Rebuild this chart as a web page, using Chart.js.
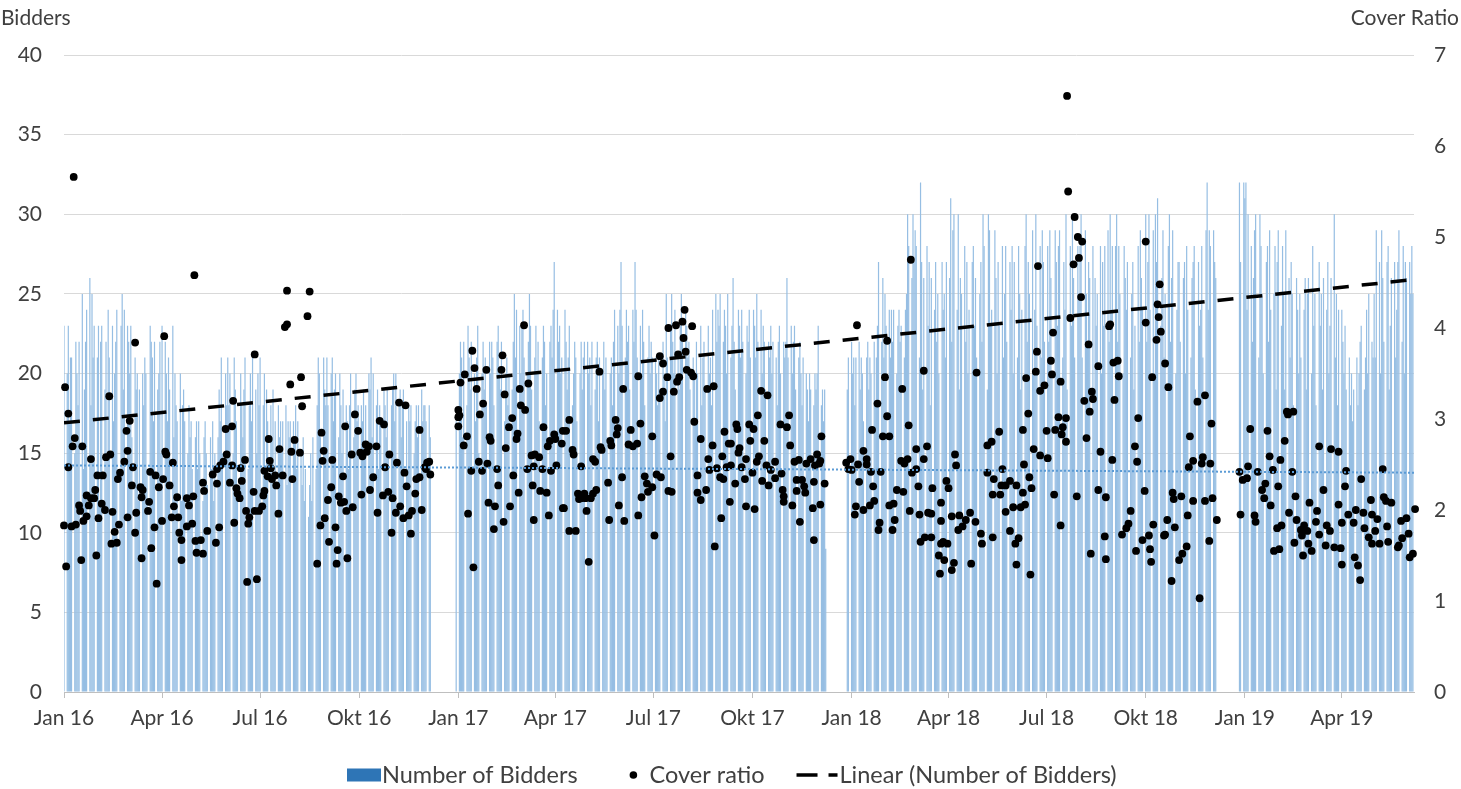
<!DOCTYPE html>
<html>
<head>
<meta charset="utf-8">
<script src="https://cdn.jsdelivr.net/npm/chart.js@4.4.1/dist/chart.umd.min.js"></script>
<style>
  html, body { margin: 0; padding: 0; background: #fff; }
  #wrap { width: 1461px; height: 789px; }
</style>
</head>
<body>
<div id="wrap"><canvas id="chart" width="1461" height="789"></canvas></div>
<script>
// --- axis labels ---
const tickDates = ['2016-01-01', '2016-04-01', '2016-07-01', '2016-10-01',
                   '2017-01-01', '2017-04-01', '2017-07-01', '2017-10-01',
                   '2018-01-01', '2018-04-01', '2018-07-01', '2018-10-01',
                   '2019-01-01', '2019-04-01'];
const tickLabels = ['Jan 16', 'Apr 16', 'Jul 16', 'Okt 16',
                    'Jan 17', 'Apr 17', 'Jul 17', 'Okt 17',
                    'Jan 18', 'Apr 18', 'Jul 18', 'Okt 18',
                    'Jan 19', 'Apr 19'];
const axisEnd = '2019-06-07';

// --- number of bidders, one value per weekday, per auction period ---
const start2016 = '2016-01-01';
const bidders2016 = [
  23, 20, 23, 17, 21, 21, 15, 22, 20, 18, 22, 25, 14, 19, 22, 24, 26, 18, 25, 21, 23,      // Jan
  21, 23, 12, 22, 23, 19, 22, 15, 24, 21, 23, 17, 20, 22, 24, 14, 23, 25, 19, 24, 23,      // Feb
  22, 20, 23, 16, 21, 19, 20, 12, 19, 20, 18, 21, 20, 14, 23, 22, 21, 17, 22, 19, 20, 22, 15, // Mar
  23, 22, 20, 17, 21, 19, 23, 16, 20, 18, 17, 20, 12, 18, 19, 17, 15, 18, 16, 17, 14,      // Apr
  16, 17, 14, 17, 15, 12, 16, 17, 15, 13, 16, 14, 17, 12, 15, 16, 19, 17, 21, 15, 20, 18,  // May
  21, 18, 20, 15, 21, 19, 17, 13, 20, 18, 16, 19, 21, 14, 18, 20, 17, 21, 19, 15, 20, 18,  // Jun
  21, 18, 20, 14, 19, 17, 18, 16, 19, 13, 17, 18, 16, 17, 15, 17, 18, 13, 17, 16, 17,      // Jul
  17, 16, 18, 14, 17, 15, 13, 16, 12, 14, 11, 13, 15, 12, 16, 14, 18, 21, 20, 16, 21, 19, 18, // Aug
  21, 18, 20, 21, 17, 19, 20, 16, 20, 18, 15, 19, 18, 17, 14, 18, 20, 16, 19, 20, 17, 18,  // Sep
  18, 17, 19, 15, 18, 20, 19, 21, 16, 20, 18, 19, 14, 18, 17, 19, 18, 16, 19, 15, 18,      // Okt
  19, 20, 17, 20, 18, 19, 16, 18, 19, 17, 14, 18, 17, 18, 15, 17, 18, 16, 18, 19, 17, 18,  // Nov
  18, 17, 18, 16                                                                            // Dec
];
const start2017 = '2016-12-30';
const bidders2017 = [
  17,
  20, 22, 21, 16, 22, 18, 23, 21, 19, 22, 20, 17, 21, 23, 15, 20, 22, 19, 21, 18, 22, 20,  // Jan
  22, 21, 18, 22, 23, 20, 19, 22, 17, 20, 21, 18, 20, 19, 22, 25, 21, 24, 23, 20,          // Feb
  23, 24, 21, 20, 22, 25, 23, 19, 21, 23, 20, 22, 17, 21, 23, 22, 18, 20, 22, 23, 21, 24, 27, // Mar
  24, 22, 23, 20, 21, 24, 22, 19, 21, 23, 18, 20, 22, 21, 17, 20, 22, 19, 21, 22,          // Apr
  22, 20, 21, 18, 22, 19, 21, 22, 17, 21, 20, 22, 19, 21, 16, 20, 21, 18, 22, 24, 23, 20, 24, // May
  27, 23, 21, 24, 22, 23, 19, 24, 22, 27, 24, 21, 23, 20, 24, 22, 18, 21, 23, 20, 22, 21,  // Jun
  21, 20, 18, 21, 19, 22, 20, 17, 25, 21, 23, 25, 22, 20, 24, 21, 19, 23, 25, 22, 24,      // Jul
  23, 21, 22, 19, 21, 20, 17, 22, 20, 23, 18, 21, 22, 19, 23, 20, 21, 18, 24, 25, 22, 24, 23, // Aug
  25, 22, 24, 23, 20, 25, 21, 23, 26, 22, 19, 24, 23, 21, 24, 22, 20, 23, 22, 24, 21,      // Sep
  24, 23, 21, 25, 22, 24, 20, 23, 22, 19, 22, 21, 23, 20, 22, 21, 18, 22, 23, 20, 22, 21,  // Okt
  22, 26, 21, 23, 20, 22, 23, 19, 21, 22, 20, 18, 21, 20, 19, 17, 20, 19, 18, 20, 19, 20,  // Nov
  23, 18, 19, 17, 19, 9                                                                     // Dec
];
const start2018 = '2017-12-28';
const bidders2018 = [
  19, 21,
  22, 20, 21, 18, 21, 22, 19, 21, 20, 17, 21, 22, 19, 21, 20, 22, 18, 21, 23, 27, 22, 26, 21, // Jan
  25, 23, 24, 21, 24, 22, 24, 20, 23, 24, 22, 23, 21, 24, 25, 30, 28, 26, 30, 27,          // Feb
  29, 28, 21, 32, 27, 19, 26, 28, 23, 27, 18, 26, 24, 27, 22, 25, 20, 27, 24, 25, 21, 27,  // Mar
  26, 31, 22, 29, 30, 24, 30, 19, 26, 25, 28, 22, 27, 20, 24, 27, 28, 23, 26, 21, 25,      // Apr
  27, 22, 30, 28, 19, 30, 29, 23, 24, 29, 26, 20, 27, 23, 28, 21, 25, 28, 22, 27, 24, 28, 20, // May
  27, 21, 28, 25, 19, 24, 28, 30, 22, 27, 25, 29, 20, 24, 30, 23, 28, 21, 29, 27, 22,      // Jun
  28, 22, 29, 26, 20, 29, 27, 23, 28, 29, 21, 27, 24, 30, 19, 28, 23, 30, 26, 21, 28, 25,  // Jul
  28, 30, 21, 29, 25, 22, 27, 26, 28, 19, 26, 23, 25, 28, 20, 27, 23, 28, 29, 22, 30, 24, 28, // Aug
  28, 30, 22, 28, 25, 20, 28, 26, 24, 27, 21, 25, 27, 19, 23, 28, 22, 29, 26, 24,          // Sep
  30, 22, 27, 30, 24, 29, 20, 30, 27, 31, 23, 26, 29, 21, 25, 28, 30, 22, 26, 29, 20, 24, 27, // Okt
  27, 22, 26, 27, 20, 28, 24, 21, 26, 27, 28, 19, 27, 23, 24, 28, 21, 29, 32, 24, 29, 28,  // Nov
  29, 27, 26                                                                                // Dec
];
const start2019 = '2018-12-27';
const bidders2019 = [
  32, 27, 32,
  31, 32, 24, 30, 28, 22, 26, 29, 30, 21, 30, 28, 25, 20, 27, 28, 22, 29, 24, 25, 28, 19, 27, // Jan
  29, 23, 28, 25, 19, 29, 26, 21, 27, 25, 18, 26, 24, 20, 25, 21, 24, 26, 19, 25,          // Feb
  26, 20, 28, 23, 25, 18, 27, 23, 25, 19, 26, 24, 27, 20, 23, 26, 30, 21, 25, 18, 24,      // Mar
  24, 22, 20, 23, 19, 21, 18, 20, 17, 19, 21, 18, 20, 22, 23, 19, 21, 24, 20, 25, 22, 21,  // Apr
  25, 21, 29, 27, 20, 29, 26, 22, 27, 28, 19, 23, 26, 27, 21, 24, 27, 29, 22, 28, 20, 27, 26, // May
  27, 25, 28, 25                                                                            // Jun
];

// --- cover ratio per auction: [days since 1 Jan 2016, ratio] ---
const cover2016 = [
  [9,5.66],[66,3.84],[93,3.91],[1,3.35],[4,3.06],[42,3.25],[10,2.79],[8,2.70],[17,2.70],[61,2.98],[58,2.87],[4,2.47],
  [25,2.56],[39,2.58],[43,2.61],[59,2.65],[56,2.53],[52,2.41],[50,2.34],[31,2.38],[36,2.38],[64,2.47],[63,2.27],[71,2.25],
  [73,2.22],[72,2.14],[80,2.42],[85,2.38],[92,2.34],[88,2.25],[95,2.61],[94,2.64],[101,2.52],[98,2.27],[105,2.14],[29,2.22],
  [21,2.16],[25,2.13],[28,2.13],[23,2.05],[14,2.05],[15,1.99],[21,1.93],[18,1.88],[35,2.07],[38,2.00],[32,1.91],[45,1.98],
  [47,1.76],[51,1.84],[44,1.63],[49,1.64],[59,1.92],[67,1.97],[66,1.75],[78,1.99],[79,2.09],[84,1.81],[91,1.88],[100,1.92],
  [102,2.04],[106,1.92],[107,1.75],[109,1.67],[109,1.45],[0,1.83],[7,1.82],[11,1.84],[2,1.38],[16,1.45],[30,1.50],[72,1.47],
  [81,1.58],[86,1.19],
  [121,4.58],[207,4.41],[228,4.40],[226,4.13],[205,4.01],[207,4.04],[177,3.71],[210,3.38],[220,3.46],[157,3.20],[221,3.14],
  [150,2.89],[156,2.92],[190,2.78],[200,2.67],[214,2.77],[211,2.64],[219,2.63],[151,2.61],[148,2.53],[145,2.49],[142,2.45],
  [156,2.49],[168,2.55],[164,2.46],[138,2.39],[129,2.30],[142,2.29],[154,2.30],[165,2.32],[130,2.21],[116,2.05],[114,2.13],
  [120,2.15],[160,2.24],[161,2.18],[163,2.13],[176,2.20],[186,2.21],[185,2.16],[184,2.04],[181,1.99],[177,1.99],[169,1.99],
  [172,1.92],[171,1.85],[186,2.43],[189,2.37],[192,2.46],[193,2.34],[196,2.38],[197,2.27],[203,2.38],[212,2.34],[191,2.54],
  [114,1.82],[119,1.85],[133,1.77],[144,1.81],[158,1.86],[122,1.66],[127,1.67],[123,1.53],[129,1.52],[141,1.64],[199,1.96],
  [170,1.21],[179,1.24],
  [239,2.85],[241,2.65],[240,2.54],[249,2.55],[261,2.92],[270,3.05],[273,2.87],[259,2.37],[248,2.25],[245,2.11],[255,2.15],
  [257,2.08],[260,2.09],[262,1.99],[268,2.03],[242,1.91],[238,1.83],[252,1.81],[246,1.65],[254,1.56],[253,1.41],[263,1.47],
  [235,1.41],[267,2.61],[275,2.63],[277,2.59],[280,2.72],[281,2.64],[283,2.70],[290,2.70],[287,2.36],[284,2.22],[276,2.17],
  [291,1.97],[293,2.98],[297,2.94],[302,2.61],[298,2.47],[296,2.16],[301,2.20],[305,2.13],[309,2.52],[304,1.75],[308,1.97],
  [312,2.04],[311,3.18],[317,3.15],[316,2.41],[318,2.26],[315,1.91],[320,1.94],[323,1.99],[322,1.74],[327,2.34],[330,2.36],
  [326,2.18],[330,2.88],[332,2.00],[335,2.47],[337,2.52],[339,2.53],[340,2.39],[336,2.45]
];
const cover2017 = [
  [427,4.03],[379,3.75],[407,3.70],[381,3.56],[392,3.54],[406,3.54],[372,3.49],[368,3.40],[383,3.33],[409,3.27],[423,3.33],
  [431,3.39],[389,3.17],[386,3.05],[366,3.10],[366,3.02],[367,3.04],[366,2.92],[371,2.71],[374,2.81],[424,3.15],[428,3.10],
  [416,3.01],[413,2.91],[421,2.84],[420,2.78],[395,2.80],[396,2.76],[410,2.68],[385,2.53],[388,2.43],[393,2.51],[378,2.43],
  [402,2.45],[403,2.27],[417,2.38],[422,2.19],[394,2.08],[400,2.04],[414,2.04],[375,1.96],[399,1.79],[408,1.87],[380,1.37],
  [434,2.60],[437,2.61],[441,2.58],[430,2.45],[436,2.48],[444,2.45],[435,2.27],[442,2.21],[448,2.19],[436,1.89],[445,2.91],
  [449,2.70],[451,2.76],[455,2.83],[456,2.78],[452,2.43],[457,2.49],[450,1.94],[462,2.73],[463,2.87],[463,2.02],
  [576,4.20],[561,4.00],[568,4.03],[574,4.07],[575,3.89],[577,3.74],[570,3.71],[553,3.69],[556,3.61],[578,3.54],[560,3.46],
  [571,3.46],[569,3.41],[566,3.30],[556,3.30],[553,3.23],[497,3.52],[533,3.47],[519,3.33],[469,2.99],[466,2.87],[472,2.66],
  [473,2.61],[480,2.48],[491,2.56],[493,2.53],[498,2.69],[499,2.66],[507,2.76],[508,2.71],[512,2.99],[514,2.90],[513,2.83],
  [526,2.88],[535,2.95],[524,2.72],[528,2.70],[532,2.73],[546,2.81],[518,2.36],[505,2.30],[539,2.37],[541,2.29],[546,2.25],
  [542,2.20],[550,2.39],[554,2.36],[536,2.14],[563,2.59],[561,2.21],[564,2.20],[477,2.18],[478,2.12],[483,2.18],[484,2.13],
  [489,2.13],[491,2.18],[494,2.22],[480,2.13],[464,2.02],[485,1.99],[515,2.05],[533,1.94],[506,1.89],[520,1.88],[469,1.77],
  [475,1.77],[548,1.72],[487,1.43],
  [583,4.02],[584,3.47],[582,3.51],[597,3.33],[603,3.36],[647,3.31],[653,3.26],[585,2.97],[591,2.78],[602,2.71],[613,2.86],
  [617,2.73],[619,2.73],[624,2.94],[625,2.89],[626,2.63],[627,2.68],[636,2.94],[640,2.89],[644,3.04],[637,2.76],[650,2.76],
  [665,2.94],[671,2.91],[673,3.04],[674,2.71],[598,2.56],[599,2.44],[606,2.46],[611,2.59],[615,2.47],[619,2.49],[633,2.56],
  [629,2.47],[645,2.59],[643,2.53],[652,2.49],[656,2.44],[660,2.53],[588,2.38],[609,2.36],[612,2.34],[623,2.29],[632,2.34],
  [639,2.41],[648,2.32],[654,2.27],[660,2.35],[666,2.40],[678,2.53],[682,2.55],[689,2.51],[693,2.56],[697,2.49],[588,2.19],
  [591,2.11],[596,2.22],[618,2.09],[610,1.91],[633,2.04],[641,2.01],[667,2.22],[668,2.15],[668,2.09],[676,2.05],[680,2.33],
  [685,2.33],[680,2.21],[687,2.26],[688,2.19],[696,2.31],[695,2.02],[683,1.87],[696,1.67],[604,1.60],
  [699,2.61],[703,2.81],[702,2.54],[701,2.51],[706,2.29],[702,2.06]
];
const cover2018 = [
  [726,2.52],[730,2.56],[728,2.45],[731,2.44],[736,4.03],[737,2.50],[738,2.31],[742,2.65],[745,2.56],[745,2.50],[749,2.42],
  [751,2.26],[752,2.10],[748,2.05],[735,2.04],[734,1.95],[742,2.00],[750,2.88],[755,3.17],[758,2.42],[757,1.86],[756,1.78],
  [760,2.81],[766,2.81],[762,3.46],[764,3.86],[764,3.03],[766,2.05],[770,2.07],[773,2.22],[771,1.89],[769,1.78],[778,3.33],
  [784,2.93],[777,2.54],[780,2.51],[783,2.56],[779,2.20],[785,1.99],[786,4.75],[787,2.41],[791,2.45],[793,2.26],[791,2.67],
  [794,1.95],[798,3.53],[801,2.70],[798,2.56],[802,1.97],[805,1.96],[806,2.24],[795,1.65],[799,1.70],[805,1.70],[814,1.88],
  [814,1.63],[812,1.50],[813,1.30],
  [931,6.55],[932,5.50],[904,4.68],[847,3.51],[918,3.95],[903,3.74],[902,3.52],[916,3.64],[917,3.49],[925,3.41],[893,3.45],
  [910,3.37],[906,3.31],[895,3.06],[890,2.88],[923,3.02],[930,3.01],[927,2.91],[912,2.87],[920,2.88],[926,2.83],[930,2.75],
  [868,2.86],[861,2.75],[857,2.71],[900,2.67],[906,2.60],[913,2.57],[891,2.50],[827,2.61],[828,2.49],[819,2.32],[821,2.24],
  [857,2.41],[863,2.34],[871,2.45],[870,2.27],[874,2.27],[878,2.32],[862,2.17],[869,2.17],[884,2.27],[890,2.19],[896,2.36],
  [898,2.24],[892,2.06],[874,1.98],[881,2.03],[888,2.03],[919,2.17],[925,1.83],[814,2.08],[816,1.65],[820,1.63],[817,1.45],
  [824,1.93],[831,1.94],[830,1.78],[834,1.82],[837,1.89],[841,1.97],[846,1.87],[851,1.74],[852,1.63],[862,1.70],[826,1.42],
  [824,1.34],[842,1.41],[878,1.77],[883,1.63],[886,1.69],[884,1.40],[897,1.29],
  [938,5.22],[941,5.00],[945,4.95],[942,4.77],[937,4.70],[944,4.34],[934,4.11],[1004,4.95],[1017,4.48],[1015,4.26],[1016,4.12],
  [1018,3.96],[1014,3.87],[1004,4.06],[1022,3.61],[1010,3.46],[1025,3.35],[970,4.02],[971,4.04],[951,3.82],[960,3.58],[974,3.62],
  [978,3.64],[979,3.47],[975,3.21],[947,3.20],[954,3.30],[955,3.22],[952,3.08],[949,2.79],[997,3.01],[994,2.70],[996,2.53],
  [962,2.64],[973,2.55],[940,2.15],[960,2.22],[967,2.14],[1003,2.21],[990,1.99],[988,1.85],[986,1.80],[982,1.73],[953,1.52],
  [966,1.71],[967,1.46],[995,1.55],[1001,1.67],[1007,1.72],[1011,1.84],[1008,1.57],[1009,1.43],[1021,1.72],[1022,1.73],[1024,1.89],
  [1031,1.81],[1028,1.22],[1029,2.19],[1030,2.12],[1037,2.15],[1035,1.45],[1038,1.52],[1042,1.60],[1043,1.94],[1045,2.81],
  [1044,2.47],[1048,2.54],[1048,2.10],
  [1059,3.26],[1052,3.19],[1065,2.95],[1057,2.58],[1056,2.51],[1064,2.51],[1059,2.10],[1066,2.13],[1070,1.89],[1063,1.66],[1054,1.03]
];
const cover2019 = [
  [1091,2.42],[1092,1.95],[1094,2.33],[1098,2.35],[1099,2.48],[1101,2.89],[1105,1.94],[1106,1.87],[1108,2.42],[1112,2.22],
  [1114,2.13],[1115,2.29],[1117,2.87],[1119,2.59],[1120,2.05],[1122,2.44],[1123,1.55],[1127,2.26],[1126,1.80],[1128,1.57],
  [1130,1.83],[1129,2.55],[1133,2.76],[1135,3.08],[1136,3.05],[1141,3.08],[1137,1.97],[1140,2.42],[1143,2.15],[1144,1.89],
  [1142,1.64],[1149,1.72],[1148,1.78],[1151,1.83],[1150,1.50],[1154,1.77],[1155,1.63],[1156,2.08],[1158,1.55],[1162,1.87],
  [1163,1.99],[1165,2.70],[1165,1.73],
  [1176,2.67],[1183,2.64],[1190,2.43],[1189,2.26],[1204,2.34],[1224,2.45],[1169,2.22],[1172,1.83],[1175,1.77],[1171,1.61],
  [1179,1.59],[1185,1.58],[1183,2.06],[1186,1.86],[1186,1.40],[1192,1.95],[1197,1.86],[1199,2.00],[1198,1.48],[1201,1.39],
  [1203,1.23],[1206,1.97],[1207,1.80],[1213,2.11],[1214,1.95],[1211,1.70],[1214,1.63],[1217,1.77],[1219,1.90],[1221,1.63],
  [1225,2.14],[1227,2.10],[1228,1.82],[1229,1.65],[1232,2.08],[1238,1.59],[1239,1.61],[1241,1.88],[1242,1.69],[1246,1.91],
  [1248,1.74],[1249,1.48],[1252,1.52],[1254,2.01]
];

// --- trend lines (start / end of the axis) ---
const bidderTrend = [16.9, 25.9];
const coverTrend = [2.49, 2.41];

// ------------------------------------------------------------------
const DAY = 864e5;
const origin = Date.parse(start2016);
const dayOf = (iso) => Math.round((Date.parse(iso) - origin) / DAY);
const lastDay = dayOf(axisEnd);

function weekdayBars(startIso, values) {
    const pts = [];
    let t = Date.parse(startIso);
    values.forEach(v => {
        while ([0, 6].includes(new Date(t).getUTCDay())) t += DAY;
        pts.push({ x: Math.round((t - origin) / DAY), y: v });
        t += DAY;
    });
    return pts;
}

const barPoints = [
    ...weekdayBars(start2016, bidders2016),
    ...weekdayBars(start2017, bidders2017),
    ...weekdayBars(start2018, bidders2018),
    ...weekdayBars(start2019, bidders2019)
];
const coverPoints = [...cover2016, ...cover2017, ...cover2018, ...cover2019]
    .map(([d, r]) => ({ x: d, y: r }));

const tickDays = tickDates.map(dayOf);
const labelByDay = {};
tickDays.forEach((d, i) => { labelByDay[d] = tickLabels[i]; });

const FONT = 'Lato, "Open Sans", sans-serif';
const TEXT = '#404040';

// axis titles and legend, drawn like the Excel original
const decorations = {
    id: 'decorations',
    afterDraw(chart) {
        const c = chart.ctx;
        c.save();
        c.font = `21px ${FONT}`;
        c.fillStyle = TEXT;
        c.textBaseline = 'middle';
        c.textAlign = 'left';
        c.fillText('Bidders', 1, 18);
        c.textAlign = 'right';
        c.fillText('Cover Ratio', 1459, 18);

        // legend
        c.font = `23.5px ${FONT}`;
        const y = 775;
        c.textAlign = 'left';
        const t1 = 'Number of Bidders', t2 = 'Cover ratio', t3 = 'Linear (Number of Bidders)';
        const w1 = c.measureText(t1).width, w2 = c.measureText(t2).width, w3 = c.measureText(t3).width;
        const total = 35 + w1 + 52 + 20 + w2 + 32 + 43 + w3;
        let x = Math.round(732 - total / 2);

        c.fillStyle = '#2E75B6';
        c.fillRect(x, y - 6.5, 34, 13);
        x += 35;
        c.fillStyle = TEXT;
        c.fillText(t1, x, y);
        x += w1 + 52;

        c.fillStyle = '#000';
        c.beginPath();
        c.arc(x + 3.8, y, 3.8, 0, Math.PI * 2);
        c.fill();
        x += 20;
        c.fillStyle = TEXT;
        c.fillText(t2, x, y);
        x += w2 + 32;

        c.strokeStyle = '#000';
        c.lineWidth = 3.5;
        c.setLineDash([21, 11]);
        c.beginPath();
        c.moveTo(x, y);
        c.lineTo(x + 41, y);
        c.stroke();
        c.setLineDash([]);
        x += 43;
        c.fillText(t3, x, y);
        c.restore();
    }
};

new Chart(document.getElementById('chart'), {
    type: 'bar',
    data: {
        datasets: [
            {
                type: 'line',
                label: 'Linear (Number of Bidders)',
                data: [{ x: 0, y: bidderTrend[0] }, { x: lastDay, y: bidderTrend[1] }],
                yAxisID: 'y',
                borderColor: '#000',
                borderWidth: 3.5,
                borderDash: [16, 13],
                pointRadius: 0,
                order: 1
            },
            {
                type: 'line',
                label: 'Linear (Cover ratio)',
                data: [{ x: 0, y: coverTrend[0] }, { x: lastDay, y: coverTrend[1] }],
                yAxisID: 'y1',
                borderColor: '#5B9BD5',
                borderWidth: 2,
                borderDash: [2, 2],
                pointRadius: 0,
                order: 2
            },
            {
                type: 'line',
                label: 'Cover ratio',
                data: coverPoints,
                yAxisID: 'y1',
                showLine: false,
                pointRadius: 3.9,
                pointBackgroundColor: '#000',
                pointBorderColor: '#000',
                pointBorderWidth: 0,
                clip: false,
                order: 3
            },
            {
                type: 'bar',
                label: 'Number of Bidders',
                data: barPoints,
                yAxisID: 'y',
                backgroundColor: '#96BEE3',
                barThickness: 1.2,
                inflateAmount: 0,
                grouped: false,
                order: 4
            }
        ]
    },
    options: {
        responsive: false,
        animation: false,
        events: [],
        layout: { padding: { top: 55, bottom: 47, left: 0, right: 0 } },
        plugins: {
            legend: { display: false },
            tooltip: { enabled: false }
        },
        scales: {
            x: {
                type: 'linear',
                min: 0,
                max: lastDay,
                offset: false,
                afterBuildTicks: (scale) => { scale.ticks = tickDays.map(v => ({ value: v })); },
                afterFit: (scale) => { scale.height = 50; },
                ticks: {
                    autoSkip: false,
                    maxRotation: 0,
                    padding: 8,
                    color: TEXT,
                    font: { family: FONT, size: 21 },
                    callback: (v) => labelByDay[v] || ''
                },
                grid: { drawOnChartArea: false, drawTicks: true, tickLength: 6, color: '#bfbfbf', offset: false },
                border: { color: '#bfbfbf' }
            },
            y: {
                position: 'left',
                min: 0,
                max: 40,
                afterFit: (scale) => { scale.width = 64; },
                ticks: { stepSize: 5, padding: 22, color: TEXT, font: { family: FONT, size: 21 } },
                grid: { color: '#d9d9d9', drawTicks: false },
                border: { display: false }
            },
            y1: {
                position: 'right',
                min: 0,
                max: 7,
                afterFit: (scale) => { scale.width = 47; },
                ticks: { stepSize: 1, padding: 20, color: TEXT, font: { family: FONT, size: 21 } },
                grid: { display: false, drawTicks: false },
                border: { display: false }
            }
        }
    },
    plugins: [decorations]
});
</script>
</body>
</html>
